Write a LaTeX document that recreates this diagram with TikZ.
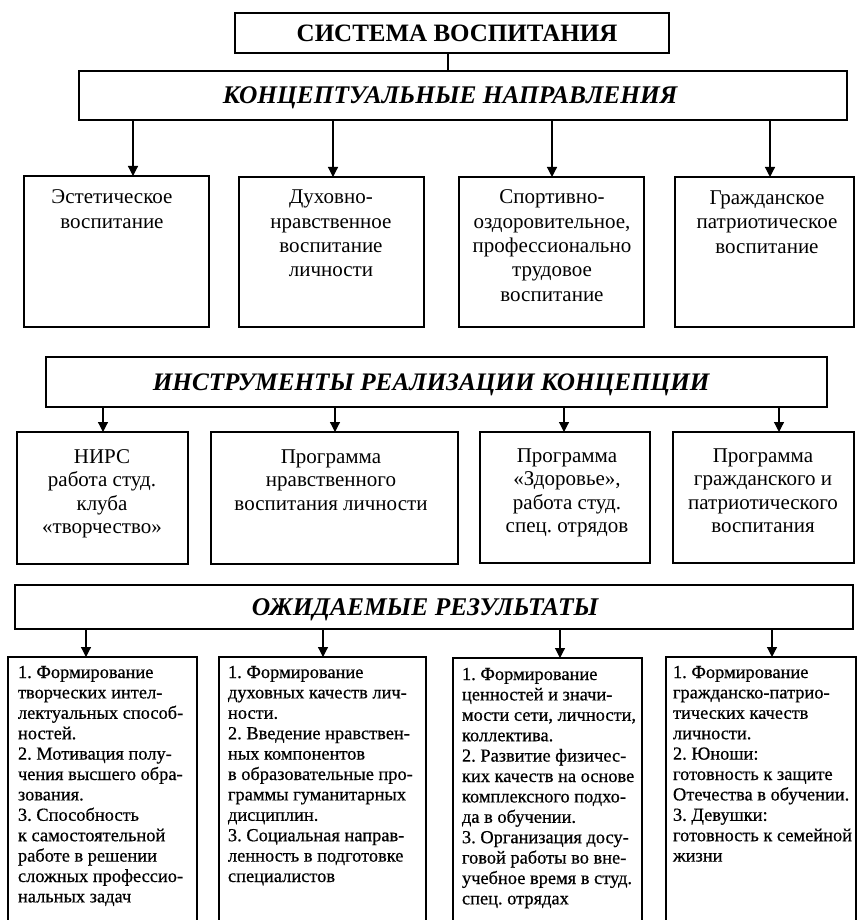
\documentclass[tikz,border=0pt]{standalone}
\usepackage{fontspec}
\setmainfont{Liberation Serif}
\newfontfamily\rcfont{Liberation Serif}[FakeBold=0.6]
\usetikzlibrary{arrows.meta}
\frenchspacing
\tikzset{
  frame/.style={draw, line width=2.6pt, inner sep=0pt, outer sep=0pt},
  arr/.style={line width=1.2pt, -{Triangle[width=10pt,length=10pt]}},
  lbl/.style={inner sep=0pt, outer sep=0pt, anchor=base},
  lbll/.style={inner sep=0pt, outer sep=0pt, anchor=base west},
}
\newcommand{\hA}{\fontsize{25}{30}\selectfont\bfseries}
\newcommand{\hB}[1]{\fontsize{#1}{30}\selectfont\bfseries\itshape}
\newcommand{\rA}{\fontsize{21}{24.3}\selectfont}
\newcommand{\rB}{\fontsize{21}{23.5}\selectfont}
\newcommand{\rC}{\rcfont\fontsize{18.4}{20.4}\selectfont\frenchspacing}
\newcommand{\cbox}[2]{\parbox[t]{#1pt}{\centering\frenchspacing #2}}
\newcommand{\lbox}[2]{\parbox[t]{#1pt}{\raggedright\frenchspacing #2}}
\begin{document}
\begin{tikzpicture}[x=1pt,y=-1pt]
\clip (0,0) rectangle (857,920);
% headers
\node[frame, minimum width=434pt, minimum height=40pt] (top) at (452,33) {};
\node[lbl] (topt) at (457,41.7) {\hA СИСТЕМА ВОСПИТАНИЯ};
\node[frame, minimum width=768pt, minimum height=49pt] (h1) at (463,95.5) {};
\node[lbl] (h1t) at (447,103.3) {\hB{25.4} КОНЦЕПТУАЛЬНЫЕ НАПРАВЛЕНИЯ};
\draw[line width=1.5pt] (top.south -| 448,0) -- (h1.north -| 448,0);
% row 1
\node[frame, minimum width=185pt, minimum height=151pt] (b11) at (116.5,251.5) {};
\node[frame, minimum width=185pt, minimum height=150pt] (b12) at (331.5,252) {};
\node[frame, minimum width=185pt, minimum height=150pt] (b13) at (551.5,252) {};
\node[frame, minimum width=179pt, minimum height=150pt] (b14) at (764.5,252) {};
\node[lbl] (t11) at (112,204) {\rA\cbox{180}{Эстетическое\\воспитание}};
\node[lbl] (t12) at (331,204) {\rA\cbox{180}{Духовно-\\нравственное\\воспитание\\личности}};
\node[lbl] (t13) at (552,204) {\rA\cbox{180}{Спортивно-\\оздоровительное,\\профессионально\\трудовое\\воспитание}};
\node[lbl] (t14) at (767,204.5) {\rA\cbox{180}{Гражданское\\патриотическое\\воспитание}};
\draw[arr] (h1.south -| 133,0) -- (b11.north -| 133,0);
\draw[arr] (h1.south -| 333,0) -- (b12.north -| 333,0);
\draw[arr] (h1.south -| 552,0) -- (b13.north -| 552,0);
\draw[arr] (h1.south -| 770,0) -- (b14.north -| 770,0);
% header 2
\node[frame, minimum width=781pt, minimum height=50pt] (h2) at (436.5,382) {};
\node[lbl] (h2t) at (428,390) {\hB{25.2} ИНСТРУМЕНТЫ РЕАЛИЗАЦИИ КОНЦЕПЦИИ};
% row 2
\node[frame, minimum width=171pt, minimum height=132pt] (b21) at (102.5,498) {};
\node[frame, minimum width=247pt, minimum height=132pt] (b22) at (334.5,498) {};
\node[frame, minimum width=170pt, minimum height=131pt] (b23) at (565,497.5) {};
\node[frame, minimum width=181pt, minimum height=131pt] (b24) at (763.5,497.5) {};
\node[lbl] (t21) at (102,463) {\rB\cbox{170}{НИРС\\работа студ.\\клуба\\«творчество»}};
\node[lbl] (t22) at (331,463) {\rB\cbox{240}{Программа\\нравственного\\воспитания личности}};
\node[lbl] (t23) at (567,462) {\rB\cbox{170}{Программа\\«Здоровье»,\\работа студ.\\спец. отрядов}};
\node[lbl] (t24) at (763,462) {\rB\cbox{180}{Программа\\гражданского и\\патриотического\\воспитания}};
\draw[arr] (h2.south -| 103,0) -- (b21.north -| 103,0);
\draw[arr] (h2.south -| 335,0) -- (b22.north -| 335,0);
\draw[arr] (h2.south -| 564,0) -- (b23.north -| 564,0);
\draw[arr] (h2.south -| 779,0) -- (b24.north -| 779,0);
% header 3
\node[frame, minimum width=838pt, minimum height=44pt] (h3) at (434,607) {};
\node[lbl] (h3t) at (422,615) {\hB{25.5} ОЖИДАЕМЫЕ РЕЗУЛЬТАТЫ};
% row 3
\node[frame, minimum width=189pt, minimum height=283pt] (b31) at (102.5,798.5) {};
\node[frame, minimum width=207pt, minimum height=283pt] (b32) at (322.5,798.5) {};
\node[frame, minimum width=189pt, minimum height=282pt] (b33) at (547.5,799) {};
\node[frame, minimum width=190pt, minimum height=283pt] (b34) at (761,798.5) {};
\draw[arr] (h3.south -| 86,0) -- (b31.north -| 86,0);
\draw[arr] (h3.south -| 323,0) -- (b32.north -| 323,0);
\draw[arr] (h3.south -| 560,0) -- (b33.north -| 560,0);
\draw[arr] (h3.south -| 772,0) -- (b34.north -| 772,0);
\node[lbll] (t31) at (18,678) {\rC\lbox{185}{1. Формирование\\творческих интел-\\лектуальных способ-\\ностей.\\2. Мотивация полу-\\чения высшего обра-\\зования.\\3. Способность\\к самостоятельной\\работе в решении\\сложных профессио-\\нальных задач}};
\node[lbll] (t32) at (228,678) {\rC\lbox{200}{1. Формирование\\духовных качеств лич-\\ности.\\2. Введение нравствен-\\ных компонентов\\в образовательные про-\\граммы гуманитарных\\дисциплин.\\3. Социальная направ-\\ленность в подготовке\\специалистов}};
\node[lbll] (t33) at (462,680) {\rC\lbox{185}{1. Формирование\\ценностей и значи-\\мости сети, личности,\\коллектива.\\2. Развитие физичес-\\ких качеств на основе\\комплексного подхо-\\да в обучении.\\3. Организация досу-\\говой работы во вне-\\учебное время в студ.\\спец. отрядах}};
\node[lbll] (t34) at (673,678) {\rC\lbox{185}{1. Формирование\\гражданско-патрио-\\тических качеств\\личности.\\2. Юноши:\\готовность к защите\\Отечества в обучении.\\3. Девушки:\\готовность к семейной\\жизни}};
\end{tikzpicture}
\end{document}
